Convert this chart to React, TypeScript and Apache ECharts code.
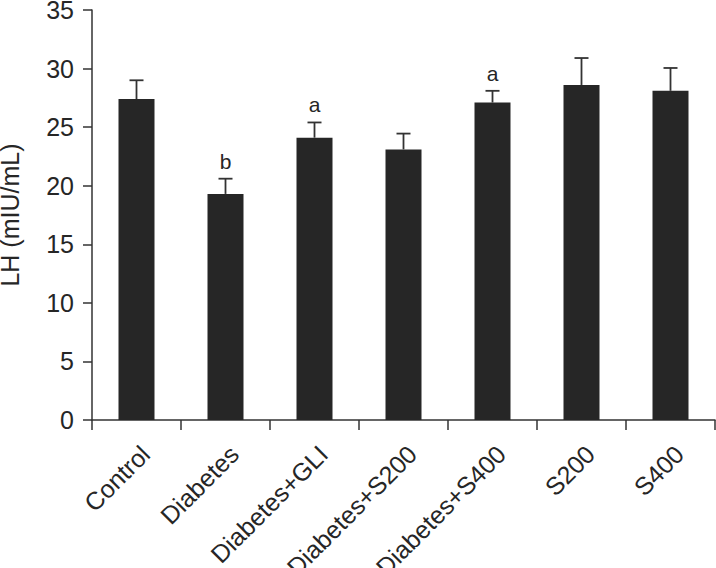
import React, { useEffect, useRef } from "react";
import * as echarts from "echarts";

const categories = [
  "Control",
  "Diabetes",
  "Diabetes+GLI",
  "Diabetes+S200",
  "Diabetes+S400",
  "S200",
  "S400",
];
const means = [27.4, 19.3, 24.1, 23.1, 27.1, 28.6, 28.1];
const errors = [1.6, 1.3, 1.3, 1.35, 1.0, 2.3, 1.95];
const letters = ["", "b", "a", "", "a", "", ""];
const yTicks = { min: 0, max: 35, interval: 5 };

const FONT = "'Liberation Sans', Arial, Helvetica, sans-serif";

export default function App() {
  const ref = useRef<HTMLDivElement>(null);
  useEffect(() => {
    if (!ref.current) return;
    const chart = echarts.init(ref.current, undefined, { renderer: "svg" });
    const errData = means.map((m, i) => [i, m, m + errors[i]]);
    chart.setOption({
      animation: false,
      backgroundColor: "#ffffff",
      grid: {
        left: 92,
        right: 1,
        top: 10,
        bottom: 148,
        containLabel: false,
        outerBoundsMode: "none",
      },
      xAxis: {
        type: "category",
        data: categories,
        boundaryGap: true,
        axisLine: { show: true, lineStyle: { color: "#333", width: 1.5 } },
        axisTick: { show: true, length: 10, lineStyle: { color: "#333", width: 1.5 } },
        axisLabel: {
          rotate: 45,
          margin: 21,
          verticalAlign: "top",
          interval: 0,
          fontSize: 25,
          color: "#262626",
          fontFamily: FONT,
        },
        splitLine: { show: false },
      },
      yAxis: {
        type: "value",
        min: yTicks.min,
        max: yTicks.max,
        interval: yTicks.interval,
        name: "LH (mIU/mL)",
        nameLocation: "middle",
        nameGap: 70,
        nameTextStyle: { fontSize: 25, color: "#262626", fontFamily: FONT },
        axisLine: { show: true, lineStyle: { color: "#333", width: 1.5 } },
        axisTick: { show: true, length: 9, lineStyle: { color: "#333", width: 1.5 } },
        axisLabel: { margin: 18, fontSize: 25, color: "#262626", fontFamily: FONT },
        splitLine: { show: false },
      },
      series: [
        {
          type: "bar",
          data: means,
          barWidth: 36,
          itemStyle: { color: "#262626" },
          z: 2,
        },
        {
          type: "custom",
          data: errData,
          z: 3,
          encode: { x: 0, y: [1, 2] },
          renderItem: (params: any, api: any) => {
            const idx = api.value(0);
            const low = api.coord([idx, api.value(1)]);
            const high = api.coord([idx, api.value(2)]);
            const half = 7;
            const style = { stroke: "#333", lineWidth: 1.8 };
            const children: any[] = [
              {
                type: "line",
                shape: { x1: low[0], y1: low[1], x2: high[0], y2: high[1] },
                style,
              },
              {
                type: "line",
                shape: { x1: high[0] - half, y1: high[1], x2: high[0] + half, y2: high[1] },
                style,
              },
            ];
            const letter = letters[params.dataIndex];
            if (letter) {
              children.push({
                type: "text",
                x: high[0],
                y: high[1] - 7,
                style: {
                  text: letter,
                  fontSize: 21,
                  fontFamily: FONT,
                  fill: "#262626",
                  align: "center",
                  verticalAlign: "bottom",
                },
              });
            }
            return { type: "group", children };
          },
        },
      ],
    });
    return () => chart.dispose();
  }, []);
  return (
    <div
      ref={ref}
      style={{ position: "fixed", left: 0, top: 0, width: 716, height: 568 }}
    />
  );
}
